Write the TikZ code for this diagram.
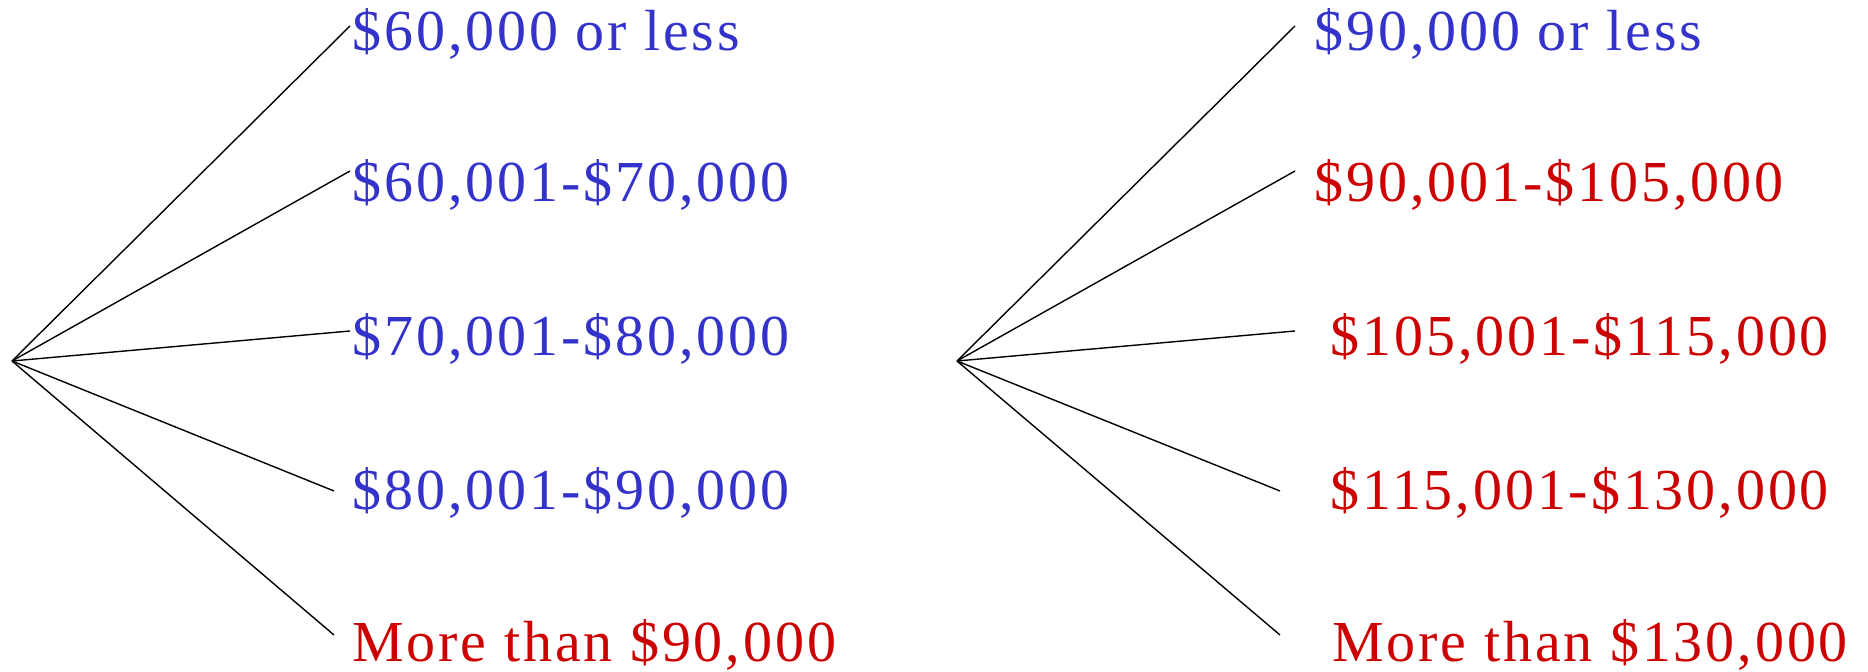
\documentclass[tikz,border=0pt]{standalone}
\usepackage{fontspec}
\newfontfamily\lblfont[LetterSpace=5]{Liberation Serif}
\definecolor{lowBlue}{HTML}{3333CC}
\definecolor{highRed}{HTML}{CC0000}
\usetikzlibrary{positioning}

\begin{document}
\begin{tikzpicture}[x=0.5pt, y=-0.5pt,
  lbl/.style={anchor=base west, inner sep=0pt,
    font=\lblfont\fontsize{29pt}{34pt}\selectfont},
  branch/.style={line width=0.7pt, black}
]
  \useasboundingbox (0,0) rectangle (1868,672);

  % left tree
  \coordinate (rootL) at (12,361);
  \coordinate (eL1) at (350,26);
  \coordinate (eL2) at (350,171);
  \coordinate (eL3) at (350,331);
  \coordinate (eL4) at (334,491);
  \coordinate (eL5) at (334,635);
  \foreach \i in {1,...,5}
    \draw[branch] (rootL) -- (eL\i);

  \node[lbl, text=lowBlue] (l1) at (352,51) {\$60,000 or less};
  \node[lbl, text=lowBlue] (l2) at (352,202) {\$60,001-\$70,000};
  \node[lbl, text=lowBlue] (l3) at (352,356) {\$70,001-\$80,000};
  \node[lbl, text=lowBlue] (l4) at (352,510) {\$80,001-\$90,000};
  \node[lbl, text=highRed] (l5) at (352,662) {More than \$90,000};

  % right tree
  \coordinate (rootR) at (957,361);
  \coordinate (eR1) at (1295,26);
  \coordinate (eR2) at (1295,171);
  \coordinate (eR3) at (1295,331);
  \coordinate (eR4) at (1280,491);
  \coordinate (eR5) at (1280,635);
  \foreach \i in {1,...,5}
    \draw[branch] (rootR) -- (eR\i);

  \node[lbl, text=lowBlue] (r1) at (1314,51) {\$90,000 or less};
  \node[lbl, text=highRed] (r2) at (1314,202) {\$90,001-\$105,000};
  \node[lbl, text=highRed] (r3) at (1330,356) {\$105,001-\$115,000};
  \node[lbl, text=highRed] (r4) at (1330,510) {\$115,001-\$130,000};
  \node[lbl, text=highRed] (r5) at (1332,662) {More than \$130,000};
\end{tikzpicture}
\end{document}
